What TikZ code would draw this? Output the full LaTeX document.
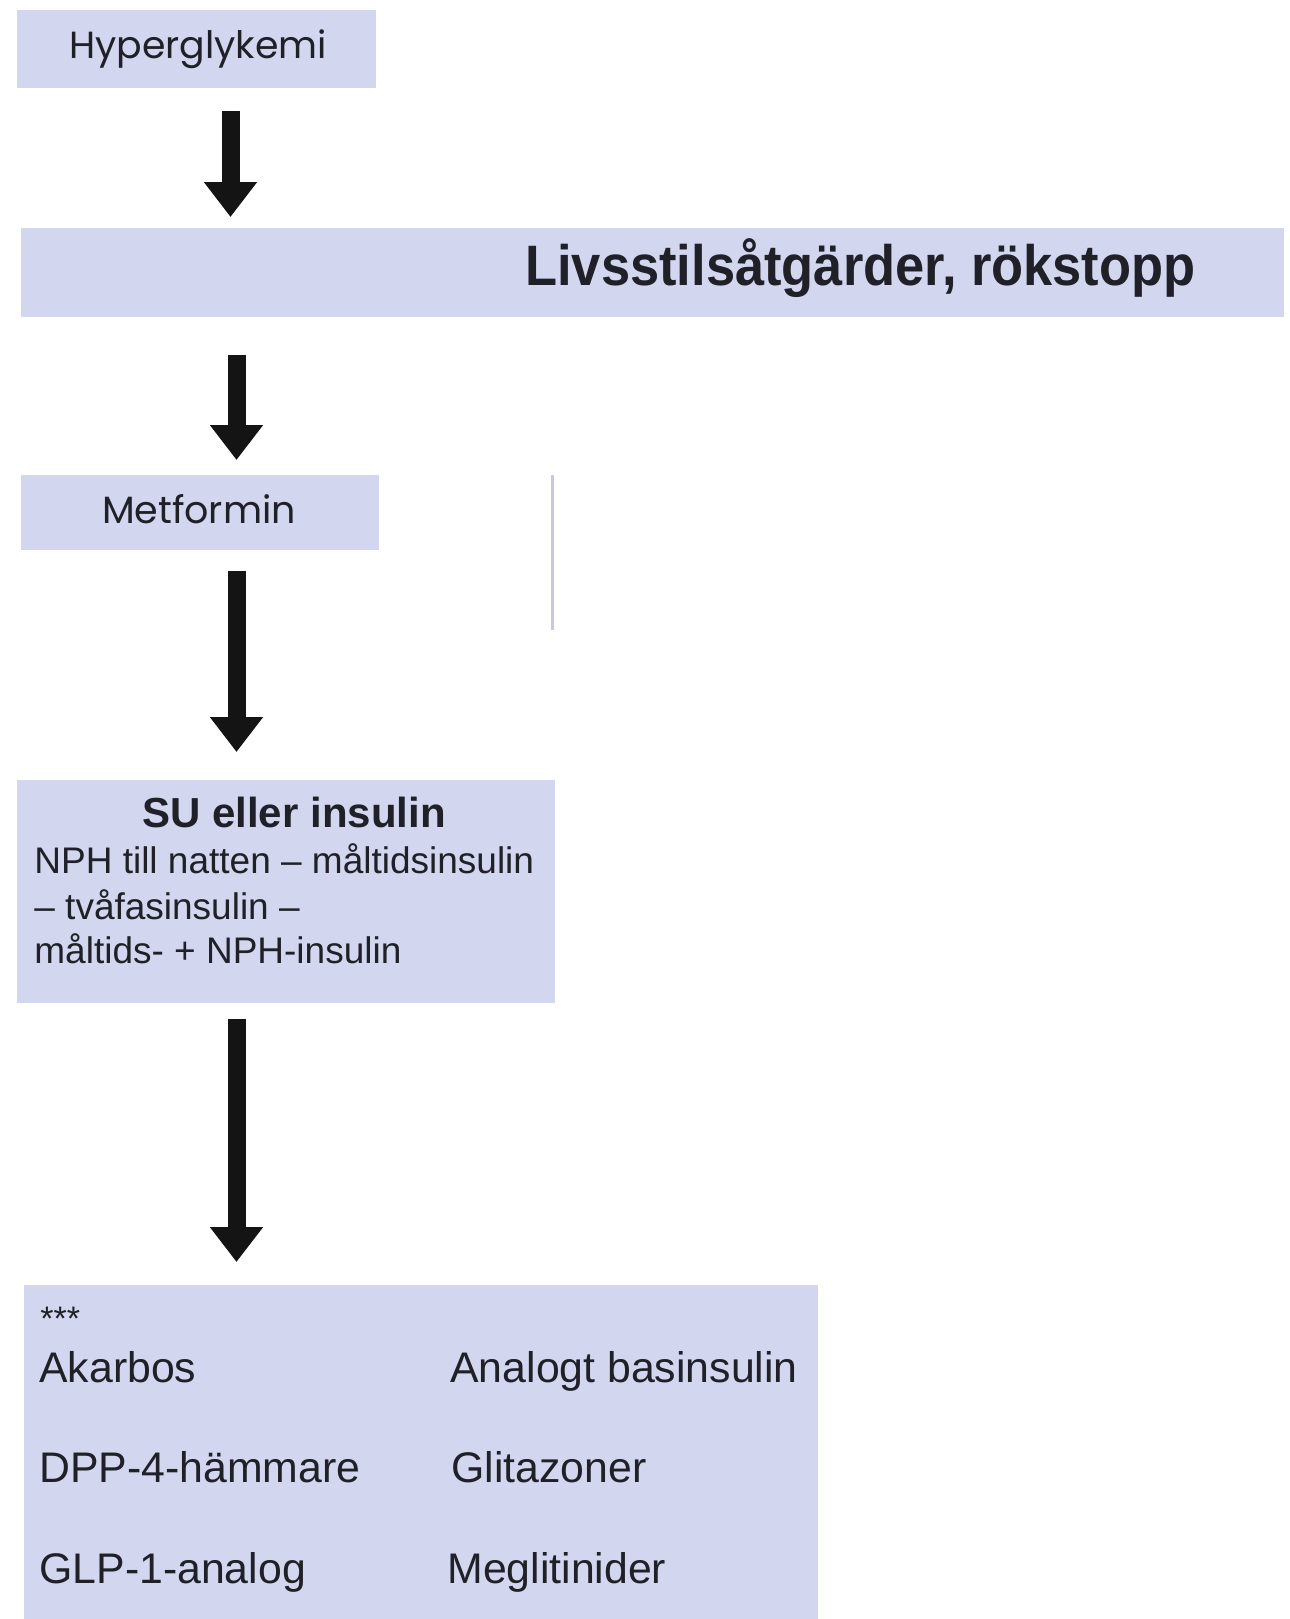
\documentclass[tikz,border=0pt]{standalone}
\usepackage{fontspec}
\setmainfont{Liberation Sans}
\newfontfamily\roundfont{Poppins}
\newfontfamily\narrowbold[FakeStretch=0.92]{Liberation Sans Bold}
\usetikzlibrary{arrows.meta}
\definecolor{boxblue}{RGB}{210,214,238}
\definecolor{faintblue}{RGB}{196,202,232}
\definecolor{inkdark}{RGB}{32,32,40}

\begin{document}
\begin{tikzpicture}[x=0.5pt,y=-0.5pt,
    box/.style ={fill=boxblue, draw=none, inner sep=0pt, anchor=north west},
    flowarrow/.style ={line width=9pt, -{Triangle[width=25.5pt,length=17.5pt]}, color=black!92},
    label/.style ={inner sep=0pt, text=inkdark},
    suline/.style ={label, anchor=base west, font=\fontsize{18.5}{22}\selectfont},
    item/.style ={label, anchor=base west, font=\fontsize{21.4}{25}\selectfont}]
   \useasboundingbox (0,0) rectangle (1290,1619);
   \node[box, minimum width=179.5pt, minimum height=39pt] (hyper) at (17,10) {};
   \node[box, minimum width=631.5pt, minimum height=44.5pt] (livs) at (21,228) {};
   \node[box, minimum width=179pt, minimum height=37.5pt] (metf) at (21,475) {};
   \node[box, minimum width=269pt, minimum height=111.5pt] (su) at (17,780) {};
   \node[box, minimum width=397pt, minimum height=167pt] (rest) at (24,1285) {};
   \node[label, anchor=base, font=\roundfont\fontsize{18.9}{22}\selectfont] (hypertext) at (198,58) {Hyperglykemi};
   \node[label, anchor=base east, font=\narrowbold\fontsize{28.5}{32}\selectfont] (livstext) at (1196,285) {Livsstilsåtgärder, rökstopp};
   \node[label, anchor=base, font=\roundfont\fontsize{19}{22}\selectfont] (metftext) at (199,523) {Metformin};
   \node[label, anchor=base, font=\bfseries\fontsize{21}{24}\selectfont] (sutitle) at (294,827) {SU eller insulin};
   \node[suline] (sulineA) at (34,873) {NPH till natten – måltidsinsulin};
   \node[suline] (sulineB) at (34,919) {– tvåfasinsulin –};
   \node[suline] (sulineC) at (34,963) {måltids- + NPH-insulin};
   \node[label, anchor=base west, font=\fontsize{17}{20}\selectfont] (stars) at (40,1330) {***};
   \node[item] (akarbos) at (39,1382) {Akarbos};
   \node[item] (analogt) at (450,1382) {Analogt basinsulin};
   \node[item] (dpp) at (39,1482) {DPP-4-hämmare};
   \node[item] (glitazon) at (451,1482) {Glitazoner};
   \node[item] (glp) at (39,1583) {GLP-1-analog};
   \node[item] (meglit) at (447,1583) {Meglitinider};
   \coordinate (ax1) at (230.5,0);
   \coordinate (ax2) at (236.5,0);
   \draw[flowarrow, shorten <=11pt, shorten >=5.5pt] (hyper.south -| ax1) -- (livs.north -| ax1);
   \draw[flowarrow, shorten <=18.5pt, shorten >=7.5pt] (livs.south -| ax2) -- (metf.north -| ax2);
   \draw[flowarrow, shorten <=10pt, shorten >=14pt] (metf.south -| ax2) -- (su.north -| ax2);
   \draw[flowarrow, shorten <=7.5pt, shorten >=11.5pt] (su.south -| ax2) -- (rest.north -| ax2);
   \draw[faintblue, line width=1.5pt] (552,475) -- (552,630);
\end{tikzpicture}
\end{document}
